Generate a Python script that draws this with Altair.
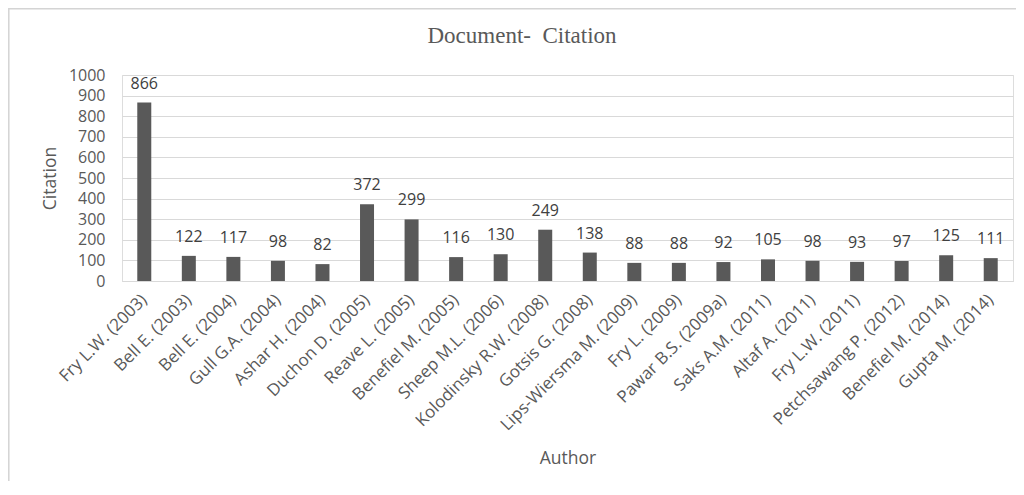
import altair as alt
import pandas as pd

authors = [
    "Fry L.W. (2003)", "Bell E. (2003)", "Bell E. (2004)", "Gull G.A. (2004)",
    "Ashar H. (2004)", "Duchon D. (2005)", "Reave L. (2005)", "Benefiel M. (2005)",
    "Sheep M.L. (2006)", "Kolodinsky R.W. (2008)", "Gotsis G. (2008)",
    "Lips-Wiersma M. (2009)", "Fry L. (2009)", "Pawar B.S. (2009a)",
    "Saks A.M. (2011)", "Altaf A. (2011)", "Fry L.W. (2011)",
    "Petchsawang P. (2012)", "Benefiel M. (2014)", "Gupta M. (2014)",
]
citations = [866, 122, 117, 98, 82, 372, 299, 116, 130, 249, 138, 88, 88, 92,
             105, 98, 93, 97, 125, 111]
y_ticks = [0, 100, 200, 300, 400, 500, 600, 700, 800, 900, 1000]
chart_title = "Document-\u00a0 Citation"

df = pd.DataFrame({"Author": authors, "Citation": citations})
one = pd.DataFrame({"k": [0]})

W, H = 891, 206
GRAY = "#595959"
FONT = "Open Sans"

x_enc = alt.X(
    "Author:N", sort=None,
    scale=alt.Scale(paddingInner=0, paddingOuter=0),
    axis=alt.Axis(
        title="Author", labelAngle=-45, labelAlign="right", labelBaseline="middle",
        labelFont=FONT, labelFontSize=17, labelColor=GRAY, labelPadding=16,
        ticks=False, tickSize=0, domain=True, domainColor="#d9d9d9", domainWidth=1,
        titleFont=FONT, titleFontSize=17.5, titleFontWeight="normal", titleColor=GRAY,
        titleY=177, titleBaseline="middle", labelOverlap=False, labelLimit=300,
    ),
)
y_enc = alt.Y(
    "Citation:Q",
    scale=alt.Scale(domain=[0, 1000], nice=False),
    axis=alt.Axis(
        title="Citation", values=y_ticks, format="d", labelFont=FONT, labelFontSize=16,
        labelColor=GRAY, labelPadding=17, ticks=False, tickSize=0, domain=False,
        grid=True, gridColor="#d9d9d9", gridWidth=1, labelOverlap=False,
        titleFont=FONT, titleFontSize=17.5, titleFontWeight="normal", titleColor=GRAY,
        titleX=-72, titleY=H / 2, titleBaseline="middle", titleAlign="center",
    ),
)

base = alt.Chart(df).encode(x=x_enc, y=y_enc)
bars = base.mark_bar(size=14, color=GRAY)
labels = base.mark_text(
    baseline="alphabetic", dy=-14, font=FONT, fontSize=16, color="#404040"
).encode(text="Citation:Q")

border = alt.Chart(one).mark_rect(
    fill=None, stroke="#d4d4d4", strokeWidth=1.5
).encode(x=alt.value(-113.2), x2=alt.value(W + 40), y=alt.value(-66.2), y2=alt.value(H + 260))

title = alt.Chart(one).mark_text(
    text=chart_title, font="Liberation Serif", fontSize=23, color=GRAY,
    align="center", baseline="alphabetic"
).encode(x=alt.value(400), y=alt.value(-32))

chart = alt.layer(border, bars, labels, title).properties(
    width=W, height=H,
    autosize=alt.AutoSizeParams(type="none"),
    padding={"left": 114, "top": 67, "right": 3, "bottom": 200},
).configure_view(stroke=None).configure(background="white")

chart.save("out.html", embed_options={"renderer": "svg", "actions": False})
